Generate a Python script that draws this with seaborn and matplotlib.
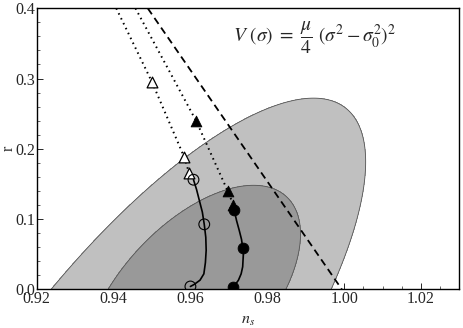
import numpy as np
import seaborn as sns
import matplotlib
matplotlib.use("Agg")
import matplotlib.pyplot as plt

# boundary points of the two likelihood contours
outer_ns = [0.9243, 0.9365, 0.9494, 0.9590, 0.9711, 0.9841, 0.9937, 1.0015, 1.0058, 1.0062, 1.0041, 1.0006, 0.9972]
outer_r = [0.0, 0.0797, 0.146, 0.198, 0.2267, 0.255, 0.269, 0.260, 0.231, 0.2125, 0.146, 0.070, 0.0]
inner_ns = [0.9390, 0.9451, 0.9538, 0.9642, 0.9711, 0.9780, 0.9833, 0.9868, 0.9880, 0.9876, 0.9852]
inner_r = [0.0, 0.0512, 0.0986, 0.127, 0.140, 0.1484, 0.1437, 0.127, 0.0986, 0.0606, 0.0]

# model predictions
dash_ns = [0.9489, 0.9994]
dash_r = [0.4, 0.0]
dot1_ns = [0.9407, 0.9500, 0.9584, 0.9597]
dot1_r = [0.4, 0.295, 0.188, 0.165]
dot2_ns = [0.9457, 0.9615, 0.9697, 0.9712]
dot2_r = [0.4, 0.2396, 0.140, 0.120]
tri_open_ns = [0.9500, 0.9584, 0.9597]
tri_open_r = [0.295, 0.188, 0.165]
tri_fill_ns = [0.9615, 0.9697, 0.9712]
tri_fill_r = [0.2396, 0.140, 0.120]
circ_open_ns = [0.9608, 0.9636, 0.9600]
circ_open_r = [0.156, 0.0925, 0.004]
circ_fill_ns = [0.9714, 0.9738, 0.9712]
circ_fill_r = [0.1125, 0.0593, 0.003]
sol1_ns = [0.9608, 0.9616, 0.9623, 0.9631, 0.9636, 0.9640, 0.9641, 0.9639, 0.9635, 0.9625, 0.9610, 0.9600]
sol1_r = [0.156, 0.142, 0.127, 0.110, 0.0925, 0.074, 0.0555, 0.038, 0.022, 0.013, 0.007, 0.004]
sol2_ns = [0.9714, 0.9720, 0.9727, 0.9733, 0.9738, 0.9738, 0.9736, 0.9732, 0.9725, 0.9712]
sol2_r = [0.1125, 0.098, 0.084, 0.071, 0.0593, 0.045, 0.032, 0.022, 0.013, 0.003]

xticks = [0.92, 0.94, 0.96, 0.98, 1.00, 1.02]
yticks = [0.0, 0.1, 0.2, 0.3, 0.4]

sns.set_theme(style="ticks")
plt.rcParams["font.family"] = ["Liberation Serif", "DejaVu Serif"]
plt.rcParams["mathtext.fontset"] = "stix"


def conic_field(px, py, X, Y):
    # least squares conic through the read boundary points
    u = (np.asarray(px) - 0.96) / 0.02
    v = np.asarray(py) / 0.1
    A = np.column_stack([u * u, u * v, v * v, u, v, np.ones_like(u)])
    c = np.linalg.svd(A)[2][-1]
    U = (X - 0.96) / 0.02
    V = Y / 0.1
    F = c[0] * U * U + c[1] * U * V + c[2] * V * V + c[3] * U + c[4] * V + c[5]
    uc, vc = u.mean(), v.mean()
    fc = c[0] * uc * uc + c[1] * uc * vc + c[2] * vc * vc + c[3] * uc + c[4] * vc + c[5]
    return F if fc < 0 else -F


fig = plt.figure(figsize=(4.63, 3.28), dpi=100)
ax = fig.add_axes([0.0793, 0.118, 0.9129, 0.8567])

gx, gy = np.meshgrid(np.linspace(0.92, 1.03, 600), np.linspace(0.0, 0.4, 600))
for px, py, col in [(outer_ns, outer_r, "#c0c0c0"), (inner_ns, inner_r, "#999999")]:
    F = conic_field(px, py, gx, gy)
    ax.contourf(gx, gy, F, levels=[F.min() - 1, 0], colors=[col], zorder=1)
    ax.contour(gx, gy, F, levels=[0], colors=["#555555"], linewidths=0.6, zorder=2)

sns.lineplot(x=dash_ns, y=dash_r, sort=False, color="black", lw=1.3,
             linestyle=(0, (4, 2.5)), ax=ax, zorder=3)
for xs, ys in [(dot1_ns, dot1_r), (dot2_ns, dot2_r)]:
    sns.lineplot(x=xs, y=ys, sort=False, color="black", lw=1.4,
                 linestyle=(0, (0.8, 2)), ax=ax, zorder=3)
for xs, ys in [(sol1_ns, sol1_r), (sol2_ns, sol2_r)]:
    sns.lineplot(x=xs, y=ys, sort=False, color="black", lw=1.2, ax=ax, zorder=3)

sns.scatterplot(x=tri_open_ns, y=tri_open_r, marker="^", s=60, facecolor="white",
                edgecolor="black", linewidth=0.9, ax=ax, zorder=4)
sns.scatterplot(x=tri_fill_ns, y=tri_fill_r, marker="^", s=60, color="black",
                edgecolor="black", ax=ax, zorder=4)
sns.scatterplot(x=circ_open_ns, y=circ_open_r, marker="o", s=60, facecolor="none",
                edgecolor="black", linewidth=0.8, ax=ax, zorder=4)
sns.scatterplot(x=circ_fill_ns, y=circ_fill_r, marker="o", s=60, color="black",
                edgecolor="black", ax=ax, zorder=5)

ax.set_xlim(0.92, 1.03)
ax.set_ylim(0.0, 0.4)
ax.set_xticks(xticks)
ax.set_xticklabels([f"{t:.2f}" for t in xticks])
ax.set_yticks(yticks)
ax.set_yticklabels([f"{t:.1f}" for t in yticks])
ax.set_xticks(np.arange(0.92, 1.0301, 0.005), minor=True)
ax.set_yticks(np.arange(0.0, 0.4001, 0.02), minor=True)
ax.tick_params(which="both", direction="in", top=False, right=False, labelsize=11.5, pad=1)
ax.tick_params(which="major", length=4, width=0.7)
ax.tick_params(which="minor", length=2, width=0.5)
for s in ax.spines.values():
    s.set_linewidth(1.0)
    s.set_color("black")

ax.set_xlabel("$n_s$", fontsize=11.5, labelpad=4)
ax.set_ylabel("r", fontsize=11.5)
ax.yaxis.set_label_coords(-0.048, 0.5)
ax.text(0.465, 0.895, r"$V\ (\sigma)\ =\ \dfrac{\mu}{4}\ (\sigma^2 - \sigma_0^2)^2$",
        transform=ax.transAxes, fontsize=14, ha="left", va="center")

fig.savefig("out.png", dpi=100)
